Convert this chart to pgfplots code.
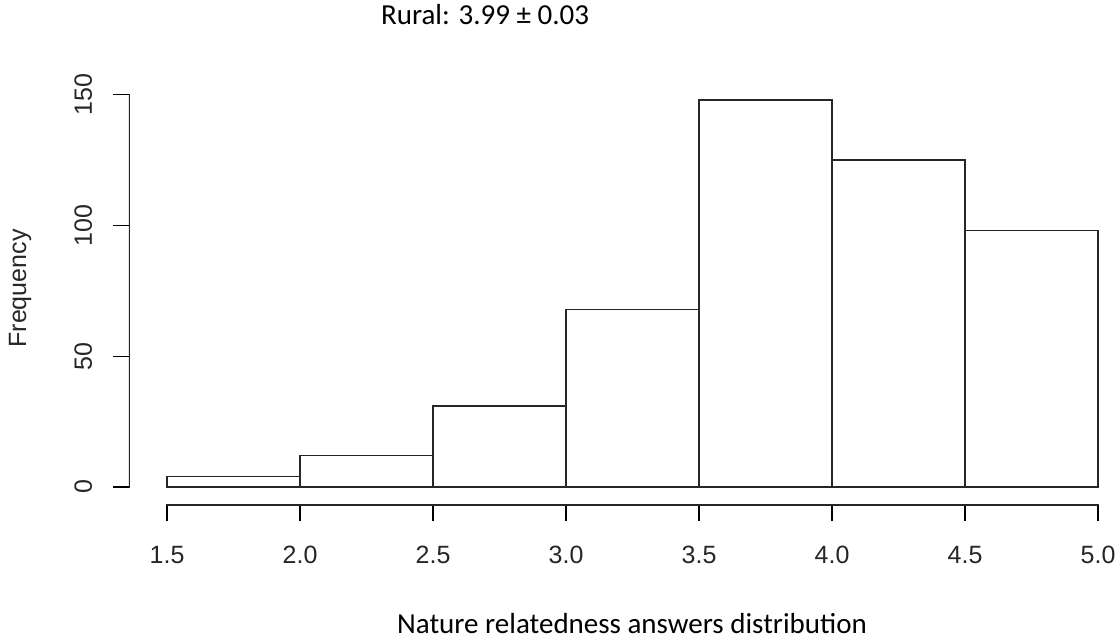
\documentclass[border=0pt]{standalone}
\usepackage{fontspec}
\setmainfont{Liberation Sans}
\newfontfamily\carlito{Carlito}
\usepackage{pgfplots}
\pgfplotsset{compat=1.18}
\begin{document}
\begin{tikzpicture}
\begin{axis}[
  name=ax,
  scale only axis, width=989pt, height=420.5pt,
  xmin=1.357, xmax=5.075, ymin=-6.88, ymax=153.9,
  enlargelimits=false,
  axis lines*=left, axis line style={draw=none},
  xtick={1.5,2,2.5,3,3.5,4,4.5,5}, ytick={0,50,100,150},
  tick align=outside, major tick length=16pt,
  tick style={black, line width=1.3pt},
  /pgf/number format/assume math mode=true,
  xticklabel={\pgfmathprintnumber[fixed,fixed zerofill,precision=1]{\tick}},
  ticklabel style={font=\fontsize{25}{30}\selectfont, color=black!85},
  xticklabel style={anchor=base, inner sep=0pt, yshift=-42pt},
  yticklabel style={anchor=base, inner sep=0pt, xshift=-21pt, rotate=90},
  xlabel={\carlito Nature relatedness answers distribution},
  xlabel style={font=\fontsize{29}{34}\selectfont, at={(axis description cs:0.5086,-0.3044)}, anchor=base, inner sep=0pt},
  ylabel={Frequency},
  ylabel style={font=\fontsize{25}{30}\selectfont, color=black!85, at={(axis description cs:-0.1041,0.5149)}, anchor=base, inner sep=0pt},
  title={\carlito Rural: 3.99 ± 0.03},
  title style={font=\fontsize{29}{34}\selectfont, at={(axis description cs:0.36,1.1415)}, anchor=base, inner sep=0pt, yshift=-6pt},
]
\addplot[ybar interval, draw=black!85, fill=white, line width=1.3pt]
  coordinates {(1.5,4) (2,12) (2.5,31) (3,68) (3.5,148) (4,125) (4.5,98) (5,98)};
\draw[line width=1.3pt, black!85, line cap=rect] (axis cs:1.5,-6.88) -- (axis cs:5,-6.88);
\draw[line width=1.3pt, black!85, line cap=rect] (axis cs:1.357,0) -- (axis cs:1.357,150);
\end{axis}
\pgfresetboundingbox
\path (ax.south west) ++(-129pt,-134pt) rectangle ++(1118pt,639pt);
\end{tikzpicture}
\end{document}
